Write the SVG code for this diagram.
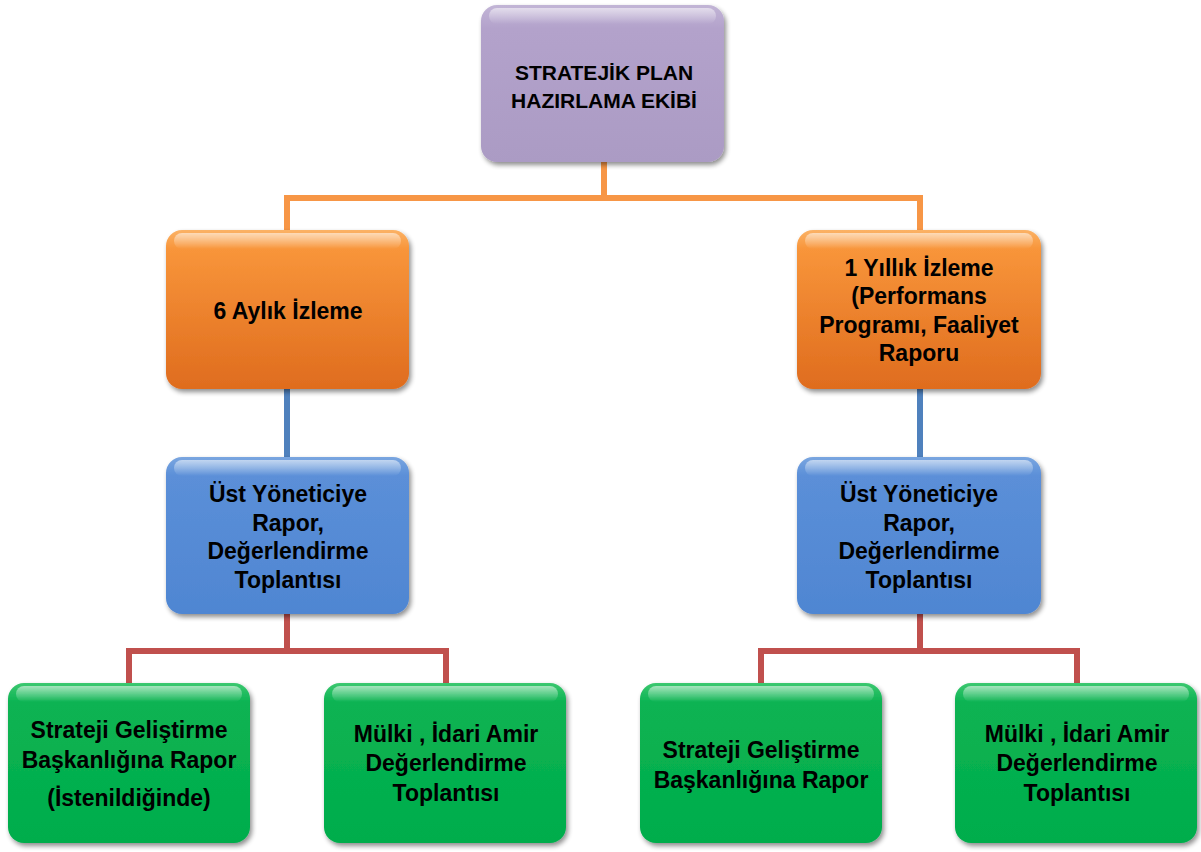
<svg xmlns="http://www.w3.org/2000/svg" width="1201" height="852" viewBox="0 0 1201 852">
<defs>
<linearGradient id="gPurple" x1="0" y1="0" x2="0" y2="1">
<stop offset="0" stop-color="#c2b5d6"/><stop offset="0.15" stop-color="#b3a2cb"/><stop offset="1" stop-color="#ab9bc4"/>
</linearGradient>
<linearGradient id="gOrange" x1="0" y1="0" x2="0" y2="1">
<stop offset="0" stop-color="#fbb266"/><stop offset="0.12" stop-color="#f8953a"/><stop offset="1" stop-color="#df6c1e"/>
</linearGradient>
<linearGradient id="gBlue" x1="0" y1="0" x2="0" y2="1">
<stop offset="0" stop-color="#7aa6e0"/><stop offset="0.12" stop-color="#5b8fd8"/><stop offset="1" stop-color="#4f86d2"/>
</linearGradient>
<linearGradient id="gGreen" x1="0" y1="0" x2="0" y2="1">
<stop offset="0" stop-color="#3cc870"/><stop offset="0.12" stop-color="#0cb352"/><stop offset="1" stop-color="#00ad4c"/>
</linearGradient>
<linearGradient id="gloss" x1="0" y1="0" x2="0" y2="1">
<stop offset="0" stop-color="#ffffff" stop-opacity="0.55"/><stop offset="1" stop-color="#ffffff" stop-opacity="0"/>
</linearGradient>
<filter id="sh" x="-10%" y="-10%" width="125%" height="130%">
<feGaussianBlur in="SourceAlpha" stdDeviation="2.5"/>
<feOffset dx="2" dy="3"/>
<feComponentTransfer><feFuncA type="linear" slope="0.45"/></feComponentTransfer>
<feMerge><feMergeNode/><feMergeNode in="SourceGraphic"/></feMerge>
</filter>
</defs>
<style>
.box{stroke:none;filter:url(#sh)}
.gl{fill:url(#gloss)}
.t{font-family:"Liberation Sans",Arial,sans-serif;font-weight:bold;font-size:23px;fill:#000;text-anchor:middle}
.cap{font-size:21px}
.c{fill:none;stroke-width:6;stroke-linejoin:miter}
</style>
<g id="connectors">
<path class="c" stroke="#f79646" d="M604 160 V198 M287 232 V198 H920 V232"/>
<path class="c" stroke="#4f81bd" d="M287 388 V459 M920 388 V459"/>
<path class="c" stroke="#c0504d" d="M287 612 V651 M129 686 V651 H446 V686"/>
<path class="c" stroke="#c0504d" d="M920 612 V651 M761 686 V651 H1077 V686"/>
</g>
<g id="n-top">
<rect class="box" x="481" y="5" width="243" height="157" rx="16" fill="url(#gPurple)"/>
<rect class="gl" x="489" y="8" width="227" height="16" rx="8"/>
<text class="t cap" x="604" y="80">STRATEJİK PLAN</text>
<text class="t cap" x="604" y="108">HAZIRLAMA EKİBİ</text>
</g>
<g id="n-6aylik">
<rect class="box" x="166" y="230" width="243" height="159" rx="16" fill="url(#gOrange)"/>
<rect class="gl" x="174" y="233" width="227" height="16" rx="8"/>
<text class="t" x="288" y="319">6 Aylık İzleme</text>
</g>
<g id="n-1yillik">
<rect class="box" x="797" y="230" width="244" height="159" rx="16" fill="url(#gOrange)"/>
<rect class="gl" x="805" y="233" width="228" height="16" rx="8"/>
<text class="t" x="919" y="276">1 Yıllık İzleme</text>
<text class="t" x="919" y="304">(Performans</text>
<text class="t" x="919" y="333">Programı, Faaliyet</text>
<text class="t" x="919" y="361">Raporu</text>
</g>
<g id="n-ust-left">
<rect class="box" x="166" y="457" width="243" height="157" rx="16" fill="url(#gBlue)"/>
<rect class="gl" x="174" y="460" width="227" height="16" rx="8"/>
<text class="t" x="288" y="502">Üst Yöneticiye</text>
<text class="t" x="288" y="531">Rapor,</text>
<text class="t" x="288" y="559">Değerlendirme</text>
<text class="t" x="288" y="588">Toplantısı</text>
</g>
<g id="n-ust-right">
<rect class="box" x="797" y="457" width="244" height="157" rx="16" fill="url(#gBlue)"/>
<rect class="gl" x="805" y="460" width="228" height="16" rx="8"/>
<text class="t" x="919" y="502">Üst Yöneticiye</text>
<text class="t" x="919" y="531">Rapor,</text>
<text class="t" x="919" y="559">Değerlendirme</text>
<text class="t" x="919" y="588">Toplantısı</text>
</g>
<g id="n-sgb-left">
<rect class="box" x="8" y="683" width="242" height="160" rx="16" fill="url(#gGreen)"/>
<rect class="gl" x="16" y="686" width="226" height="16" rx="8"/>
<text class="t" x="129" y="738">Strateji Geliştirme</text>
<text class="t" x="129" y="768">Başkanlığına Rapor</text>
<text class="t" x="129" y="806">(İstenildiğinde)</text>
</g>
<g id="n-mulki-left">
<rect class="box" x="324" y="683" width="242" height="160" rx="16" fill="url(#gGreen)"/>
<rect class="gl" x="332" y="686" width="226" height="16" rx="8"/>
<text class="t" x="446" y="742">Mülki , İdari Amir</text>
<text class="t" x="446" y="771">Değerlendirme</text>
<text class="t" x="446" y="801">Toplantısı</text>
</g>
<g id="n-sgb-right">
<rect class="box" x="640" y="683" width="242" height="160" rx="16" fill="url(#gGreen)"/>
<rect class="gl" x="648" y="686" width="226" height="16" rx="8"/>
<text class="t" x="761" y="758">Strateji Geliştirme</text>
<text class="t" x="761" y="788">Başkanlığına Rapor</text>
</g>
<g id="n-mulki-right">
<rect class="box" x="955" y="683" width="242" height="160" rx="16" fill="url(#gGreen)"/>
<rect class="gl" x="963" y="686" width="226" height="16" rx="8"/>
<text class="t" x="1077" y="742">Mülki , İdari Amir</text>
<text class="t" x="1077" y="771">Değerlendirme</text>
<text class="t" x="1077" y="801">Toplantısı</text>
</g>
</svg>
